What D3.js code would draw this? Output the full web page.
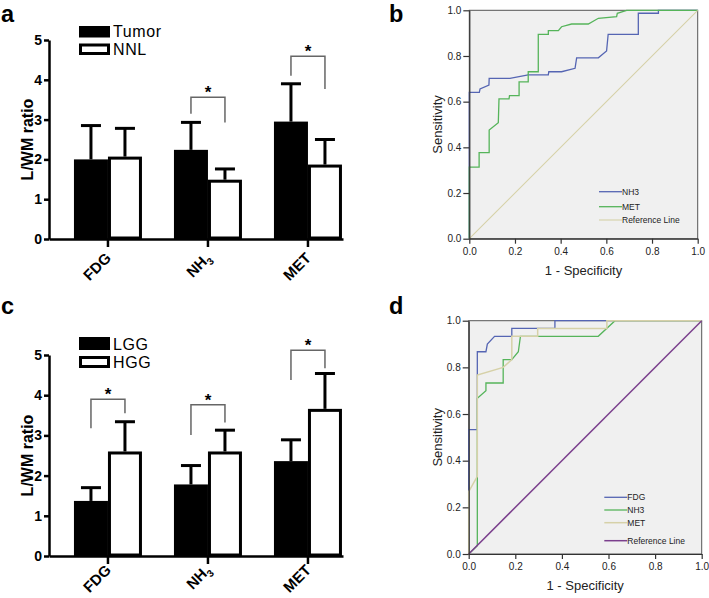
<!DOCTYPE html>
<html><head><meta charset="utf-8">
<script src="https://cdn.jsdelivr.net/npm/d3@7/dist/d3.min.js"></script>
<style>body{margin:0;background:#fff}svg{display:block}</style>
</head><body>
<svg id="fig" width="709" height="598"></svg>
<script>
// ---------- data ----------
const groups = ["FDG", "NH3", "MET"];
// panel a
const tumorMean = [2.0, 2.24, 2.95];
const tumorSD   = [0.85, 0.69, 0.95];
const nnlMean   = [2.07, 1.49, 1.87];
const nnlSD     = [0.71, 0.27, 0.63];
const bracketsA = [ {g:1, top:3.56, left:3.15, right:2.93}, {g:2, top:4.59, left:4.10, right:3.77} ];
// panel c
const lggMean = [1.37, 1.78, 2.36];
const lggSD   = [0.33, 0.47, 0.53];
const hggMean = [2.60, 2.60, 3.66];
const hggSD   = [0.74, 0.53, 0.88];
const bracketsC = [ {g:0, top:3.90, left:3.18, right:3.55}, {g:1, top:3.76, left:3.01, right:3.32}, {g:2, top:5.12, left:4.38, right:4.67} ];
const barTicks = [0, 1, 2, 3, 4, 5];
// panel b ROC (1-specificity, sensitivity)
const bNH3x = [0,0,0.044,0.047,0.086,0.087,0.178,0.258,0.346,0.348,0.404,0.463,0.470,0.565,0.601,0.608,0.740,0.740,0.828,0.828,1];
const bNH3y = [0,0.641,0.641,0.656,0.673,0.702,0.702,0.717,0.717,0.731,0.731,0.746,0.792,0.792,0.822,0.895,0.895,0.987,0.987,1,1];
const bMETx = [0,0,0.043,0.043,0.087,0.087,0.127,0.130,0.174,0.176,0.218,0.218,0.258,0.258,0.302,0.302,0.346,0.346,0.390,0.404,0.448,0.521,0.565,0.645,0.648,0.689,1];
const bMETy = [0,0.313,0.313,0.377,0.377,0.476,0.508,0.612,0.612,0.626,0.626,0.687,0.687,0.731,0.731,0.895,0.895,0.911,0.911,0.928,0.940,0.940,0.965,0.972,0.987,1,1];
// panel d ROC
const dFDGx = [0,0,0.037,0.037,0.074,0.080,0.111,0.185,0.185,0.370,0.370,1];
const dFDGy = [0,0.533,0.533,0.867,0.867,0.900,0.933,0.933,0.967,0.967,1,1];
const dNH3x = [0,0.037,0.037,0.074,0.074,0.148,0.148,0.185,0.213,0.222,0.556,0.628,1];
const dNH3y = [0,0.035,0.667,0.700,0.733,0.733,0.833,0.833,0.867,0.933,0.933,1,1];
const dMETx = [0,0,0.037,0.037,0.148,0.185,0.185,0.296,0.296,0.593,0.593,1];
const dMETy = [0,0.267,0.333,0.767,0.800,0.833,0.933,0.933,0.967,0.967,1,1];
const refX = [0, 1], refY = [0, 1];
const rocTicks = [0, 0.2, 0.4, 0.6, 0.8, 1.0];

// ---------- drawing ----------
const svg = d3.select("#fig");
const FONT = "'Liberation Sans', Arial, Helvetica, sans-serif";

function panelLabel(t, x, y) {
  svg.append("text").attr("x", x).attr("y", y).text(t)
    .attr("font-family", FONT).attr("font-weight", "bold").attr("font-size", 23.5);
}

function barPanel(o) {
  const g = svg.append("g");
  const y = d3.scaleLinear().domain([0, 5]).range([o.y0, o.y1]);
  const x = d3.scaleBand().domain(groups).range([49, 343])
    .paddingInner(0.32).paddingOuter(0.13).align(0.96);
  const bw = x.bandwidth() / 2;
  const series = [
    {mean: o.m1, sd: o.s1, fill: "#000", off: 0},
    {mean: o.m2, sd: o.s2, fill: "#fff", off: bw}
  ];
  series.forEach(s => {
    g.selectAll(null).data(groups).enter().append("line")
      .attr("x1", (d) => x(d) + s.off + bw / 2).attr("x2", (d) => x(d) + s.off + bw / 2)
      .attr("y1", (d, i) => y(s.mean[i])).attr("y2", (d, i) => y(s.mean[i] + s.sd[i]))
      .attr("stroke", "#000").attr("stroke-width", 3);
    g.selectAll(null).data(groups).enter().append("line")
      .attr("x1", (d) => x(d) + s.off + bw / 2 - 10).attr("x2", (d) => x(d) + s.off + bw / 2 + 10)
      .attr("y1", (d, i) => y(s.mean[i] + s.sd[i])).attr("y2", (d, i) => y(s.mean[i] + s.sd[i]))
      .attr("stroke", "#000").attr("stroke-width", 3);
    g.selectAll(null).data(groups).enter().append("rect")
      .attr("x", (d) => x(d) + s.off + 1.5).attr("width", bw - 3)
      .attr("y", (d, i) => y(s.mean[i]) + 1.5).attr("height", (d, i) => y(0) - y(s.mean[i]) - 2.5)
      .attr("fill", s.fill).attr("stroke", "#000").attr("stroke-width", 3);
  });
  o.br.forEach(b => {
    const xl = x(groups[b.g]) + bw / 2, xr = x(groups[b.g]) + bw * 1.5;
    g.append("path")
      .attr("d", `M${xl},${y(b.left)}V${y(b.top)}H${xr}V${y(b.right)}`)
      .attr("fill", "none").attr("stroke", "#666").attr("stroke-width", 1.5);
    g.append("text").attr("x", (xl + xr) / 2).attr("y", y(b.top) + 1).text("*")
      .attr("text-anchor", "middle").attr("font-family", FONT).attr("font-weight", "bold").attr("font-size", 17);
  });
  const ya = g.append("g").attr("transform", "translate(49,0)")
    .call(d3.axisLeft(y).tickValues(barTicks).tickFormat(d3.format("d")).tickSize(5).tickPadding(2).tickSizeOuter(0));
  const xa = g.append("g").attr("transform", `translate(0,${o.y0})`)
    .call(d3.axisBottom(x).tickSize(8).tickSizeOuter(0));
  [ya, xa].forEach(a => {
    a.select(".domain").attr("stroke-width", 2.5);
    a.selectAll(".tick line").attr("stroke-width", 2.5);
    a.selectAll("text").attr("font-family", FONT).attr("font-weight", "bold").attr("font-size", 14).attr("fill", "#000");
  });
  xa.selectAll(".tick text").each(function (d) {
    const t = d3.select(this);
    t.text(null).attr("x", 0).attr("y", 0).attr("dy", 0)
      .attr("transform", `translate(4,${o.labDy}) rotate(-45)`).style("text-anchor", "end").attr("font-size", 15);
    if (d === "NH3") {
      t.append("tspan").text("NH");
      t.append("tspan").text("3").attr("font-size", 10).attr("dy", 4);
    } else t.text(d);
  });
  g.append("text").attr("transform", `translate(33,${(o.y0 + o.y1) / 2}) rotate(-90)`)
    .attr("text-anchor", "middle").text("L/WM ratio")
    .attr("font-family", FONT).attr("font-weight", "bold").attr("font-size", 16);
  o.leg.forEach((l, i) => {
    g.append("rect").attr("x", 80.5).attr("y", l.y + 1.5).attr("width", 28).attr("height", l.h - 3)
      .attr("fill", i === 0 ? "#000" : "#fff").attr("stroke", "#000").attr("stroke-width", 3);
    g.append("text").attr("x", 113).attr("y", l.base).text(l.t)
      .attr("font-family", FONT).attr("font-size", 16).attr("letter-spacing", 0.6);
  });
}

barPanel({y0: 239, y1: 40, labDy: 20, m1: tumorMean, s1: tumorSD, m2: nnlMean, s2: nnlSD, br: bracketsA,
  leg: [{t: "Tumor", y: 26, h: 11.5, base: 37}, {t: "NNL", y: 43.5, h: 11.5, base: 55}]});
barPanel({y0: 556, y1: 355, labDy: 15, m1: lggMean, s1: lggSD, m2: hggMean, s2: hggSD, br: bracketsC,
  leg: [{t: "LGG", y: 337, h: 13, base: 350}, {t: "HGG", y: 356, h: 12, base: 368}]});

function rocPanel(o) {
  const g = svg.append("g");
  const x = d3.scaleLinear().domain([0, 1]).range([o.x0, o.x1]);
  const y = d3.scaleLinear().domain([0, 1]).range([o.y0, o.y1]);
  g.append("rect").attr("x", o.x0).attr("y", o.y1).attr("width", o.x1 - o.x0).attr("height", o.y0 - o.y1)
    .attr("fill", "#f0f0f0").attr("stroke", "#555").attr("stroke-width", 1);
  const line = d3.line().x(d => x(d[0])).y(d => y(d[1]));
  o.curves.forEach(c => {
    const pts = c.x.map((v, i) => [v, c.y[i]]);
    g.append("path").attr("d", line(pts)).attr("fill", "none")
      .attr("stroke", c.color).attr("stroke-width", c.w);
  });
  const ya = g.append("g").attr("transform", `translate(${o.x0},0)`)
    .call(d3.axisLeft(y).tickValues(rocTicks).tickFormat(d3.format(".1f")).tickSize(6).tickPadding(2).tickSizeOuter(0));
  const xa = g.append("g").attr("transform", `translate(0,${o.y0})`)
    .call(d3.axisBottom(x).tickValues(rocTicks).tickFormat(d3.format(".1f")).tickSize(5).tickPadding(4).tickSizeOuter(0));
  [ya, xa].forEach(a => {
    a.select(".domain").attr("stroke", "#333").attr("stroke-width", 1.2);
    a.selectAll(".tick line").attr("stroke", "#333").attr("stroke-width", 1.2);
    a.selectAll("text").attr("font-family", FONT).attr("font-size", 10).attr("fill", "#222");
  });
  g.append("text").attr("transform", `translate(${o.x0 - 27},${(o.y0 + o.y1) / 2}) rotate(-90)`)
    .attr("text-anchor", "middle").text("Sensitivity")
    .attr("font-family", FONT).attr("font-size", 13).attr("fill", "#222");
  g.append("text").attr("x", (o.x0 + o.x1) / 2).attr("y", o.y0 + 36)
    .attr("text-anchor", "middle").text("1 - Specificity")
    .attr("font-family", FONT).attr("font-size", 13).attr("fill", "#222");
  o.curves.forEach((c, i) => {
    const ly = o.legY[i];
    g.append("line").attr("x1", o.legX).attr("x2", o.legX + 23).attr("y1", ly).attr("y2", ly)
      .attr("stroke", c.color).attr("stroke-width", c.w);
    g.append("text").attr("x", o.legX + 23).attr("y", ly + 3).text(c.name)
      .attr("font-family", FONT).attr("font-size", 8.5).attr("fill", "#222");
  });
}

const BLUE = "#5565b3", GREEN = "#55b45a", TAN = "#d6d1a8", PURPLE = "#7b3f8d";
rocPanel({x0: 469.3, x1: 697.7, y0: 238.7, y1: 10.3, legX: 599, legY: [191.7, 206.7, 220],
  curves: [
    {name: "NH3", x: bNH3x, y: bNH3y, color: BLUE, w: 1.3},
    {name: "MET", x: bMETx, y: bMETy, color: GREEN, w: 1.3},
    {name: "Reference Line", x: refX, y: refY, color: TAN, w: 1.1}
  ]});
rocPanel({x0: 468.7, x1: 701.7, y0: 554, y1: 320.7, legX: 604.3, legY: [497.3, 510, 522.7, 540.7],
  curves: [
    {name: "FDG", x: dFDGx, y: dFDGy, color: BLUE, w: 1.3},
    {name: "NH3", x: dNH3x, y: dNH3y, color: GREEN, w: 1.3},
    {name: "MET", x: dMETx, y: dMETy, color: TAN, w: 1.5},
    {name: "Reference Line", x: refX, y: refY, color: PURPLE, w: 1.5}
  ]});

panelLabel("a", 1, 21.5);
panelLabel("b", 389, 21.5);
panelLabel("c", 1, 314);
panelLabel("d", 389, 314);
</script>
</body></html>
